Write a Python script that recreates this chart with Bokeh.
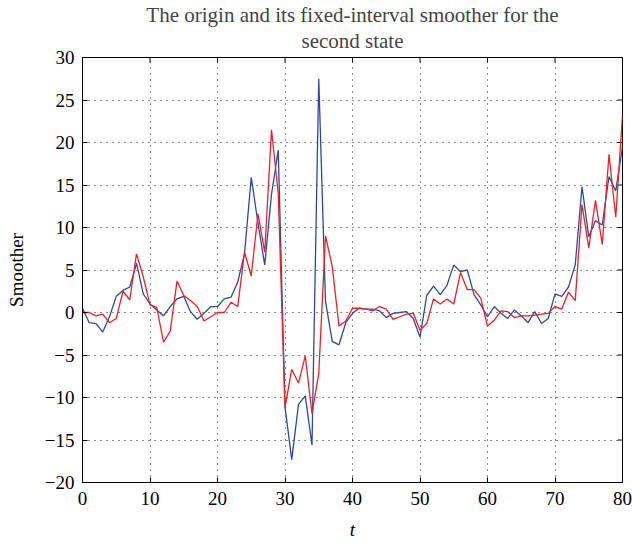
from bokeh.plotting import figure
from bokeh.models import Range1d, FixedTicker, ColumnDataSource, Title
from bokeh.embed import file_html
from bokeh.resources import INLINE

t = list(range(81))
origin = [0.5, -1.2, -1.3, -2.3, -0.5, 1.9, 2.6, 3.0, 5.8, 2.2,
          1.0, 0.3, -0.4, 0.7, 1.6, 1.9, 0.1, -0.8, -0.1, 0.7,
          0.7, 1.6, 1.8, 3.6, 6.9, 15.9, 10.5, 5.6, 13.9, 19.1,
          -11.1, -17.3, -10.8, -9.8, -15.6, 27.5, 1.3, -3.4, -3.8, -1.2,
          -0.1, 0.5, 0.4, 0.4, 0.2, -0.6, -0.1, 0.0, 0.1, -0.7,
          -2.9, 2.0, 3.1, 2.1, 3.2, 5.6, 4.8, 5.0, 2.1, 0.9,
          -0.5, 0.7, -0.1, -0.7, 0.3, -0.4, -1.2, 0.1, -1.3, -0.7,
          2.2, 1.9, 3.0, 5.6, 14.8, 8.9, 10.8, 10.3, 16.0, 14.3,
          19.5]
smoother = [0.0, 0.0, -0.4, -0.2, -1.2, -0.7, 2.5, 1.5, 6.9, 4.2,
            0.9, 0.6, -3.5, -2.2, 3.7, 2.0, 1.4, 0.7, -1.0, -0.5,
            0.0, 0.0, 1.2, 0.7, 7.1, 4.3, 11.6, 7.1, 21.5, 14.0,
            -11.2, -6.7, -8.3, -5.1, -11.9, -7.2, 9.0, 5.4, -1.6, -1.0,
            0.5, 0.5, 0.4, 0.2, 0.7, 0.4, -0.8, -0.5, -0.2, -0.1,
            -2.1, -1.3, 1.6, 1.0, 1.6, 1.0, 4.7, 2.7, 2.7, 1.7,
            -1.6, -0.9, 0.2, 0.1, -0.6, -0.4, -0.4, -0.3, -0.2, -0.1,
            0.7, 0.4, 2.4, 1.4, 12.7, 7.6, 13.2, 8.0, 18.6, 11.2,
            23.2]
x_ticks = [0, 10, 20, 30, 40, 50, 60, 70, 80]
y_ticks = [-20, -15, -10, -5, 0, 5, 10, 15, 20, 25, 30]
title_lines = ["The origin and its fixed-interval smoother for the", "second state"]

FONT = "Liberation Serif"
X0, X1, Y0, Y1 = 0, 80, -20, 30
W, H = 632, 543
BL, BR, BT, BB = 82, 10, 57, 61
TICK = 5  # px

p = figure(width=W, height=H, output_backend="svg", toolbar_location=None,
           x_range=Range1d(X0, X1), y_range=Range1d(Y0, Y1),
           min_border_left=BL, min_border_right=BR, min_border_top=BT, min_border_bottom=BB)
p.background_fill_color = "white"
p.border_fill_color = "white"
p.outline_line_color = "black"
p.outline_line_width = 1

p.xgrid[0].ticker = FixedTicker(ticks=x_ticks)
p.ygrid[0].ticker = FixedTicker(ticks=y_ticks)
for g in (p.xgrid[0], p.ygrid[0]):
    g.grid_line_color = "black"
    g.grid_line_dash = "1 5"
    g.grid_line_alpha = 0.9
    g.grid_line_width = 1

# pixel -> data scale of the frame (for the small box tick marks only)
fw, fh = W - BL - BR, H - BT - BB
py = (Y1 - Y0) / fh
px = (X1 - X0) / fw

# tick marks on the top and right frame edges (MATLAB box style)
top_src = ColumnDataSource(dict(x=x_ticks, y0=[Y1] * len(x_ticks), y1=[Y1 - TICK * py] * len(x_ticks)))
right_src = ColumnDataSource(dict(y=y_ticks, x0=[X1] * len(y_ticks), x1=[X1 - TICK * px] * len(y_ticks)))
p.segment(x0="x", x1="x", y0="y0", y1="y1", source=top_src, line_color="black", line_width=1)
p.segment(x0="x0", x1="x1", y0="y", y1="y", source=right_src, line_color="black", line_width=1)

p.line(t, origin, line_color="#2a4a9e", line_width=1.3)
p.line(t, smoother, line_color="#ee1f26", line_width=1.3)

for ax in (p.xaxis[0], p.yaxis[0]):
    ax.major_tick_in = TICK
    ax.major_tick_out = 0
    ax.minor_tick_in = 0
    ax.minor_tick_out = 0
    ax.axis_line_color = "black"
    ax.major_tick_line_color = "black"
    ax.major_label_text_font = FONT
    ax.major_label_text_font_size = "19px"
    ax.major_label_text_color = "black"
    ax.axis_label_text_font = FONT
    ax.axis_label_text_font_size = "19px"
    ax.axis_label_text_color = "black"
    ax.axis_label_text_font_style = "normal"

p.xaxis[0].ticker = FixedTicker(ticks=x_ticks)
p.yaxis[0].ticker = FixedTicker(ticks=y_ticks)
p.xaxis[0].axis_label = "t"
p.xaxis[0].axis_label_text_font_style = "italic"
p.yaxis[0].axis_label = "Smoother"
p.xaxis[0].major_label_standoff = 9
p.yaxis[0].major_label_standoff = 8
p.xaxis[0].axis_label_standoff = 11
p.yaxis[0].axis_label_standoff = 15

p.add_layout(Title(text=title_lines[1], align="center", text_font=FONT, vertical_align="top",
                   text_font_size="21px", text_font_style="normal", standoff=5), "above")
p.add_layout(Title(text=title_lines[0], align="center", text_font=FONT,
                   text_font_size="21px", text_font_style="normal", standoff=0), "above")

open("out.html", "w").write(file_html(p, INLINE))
